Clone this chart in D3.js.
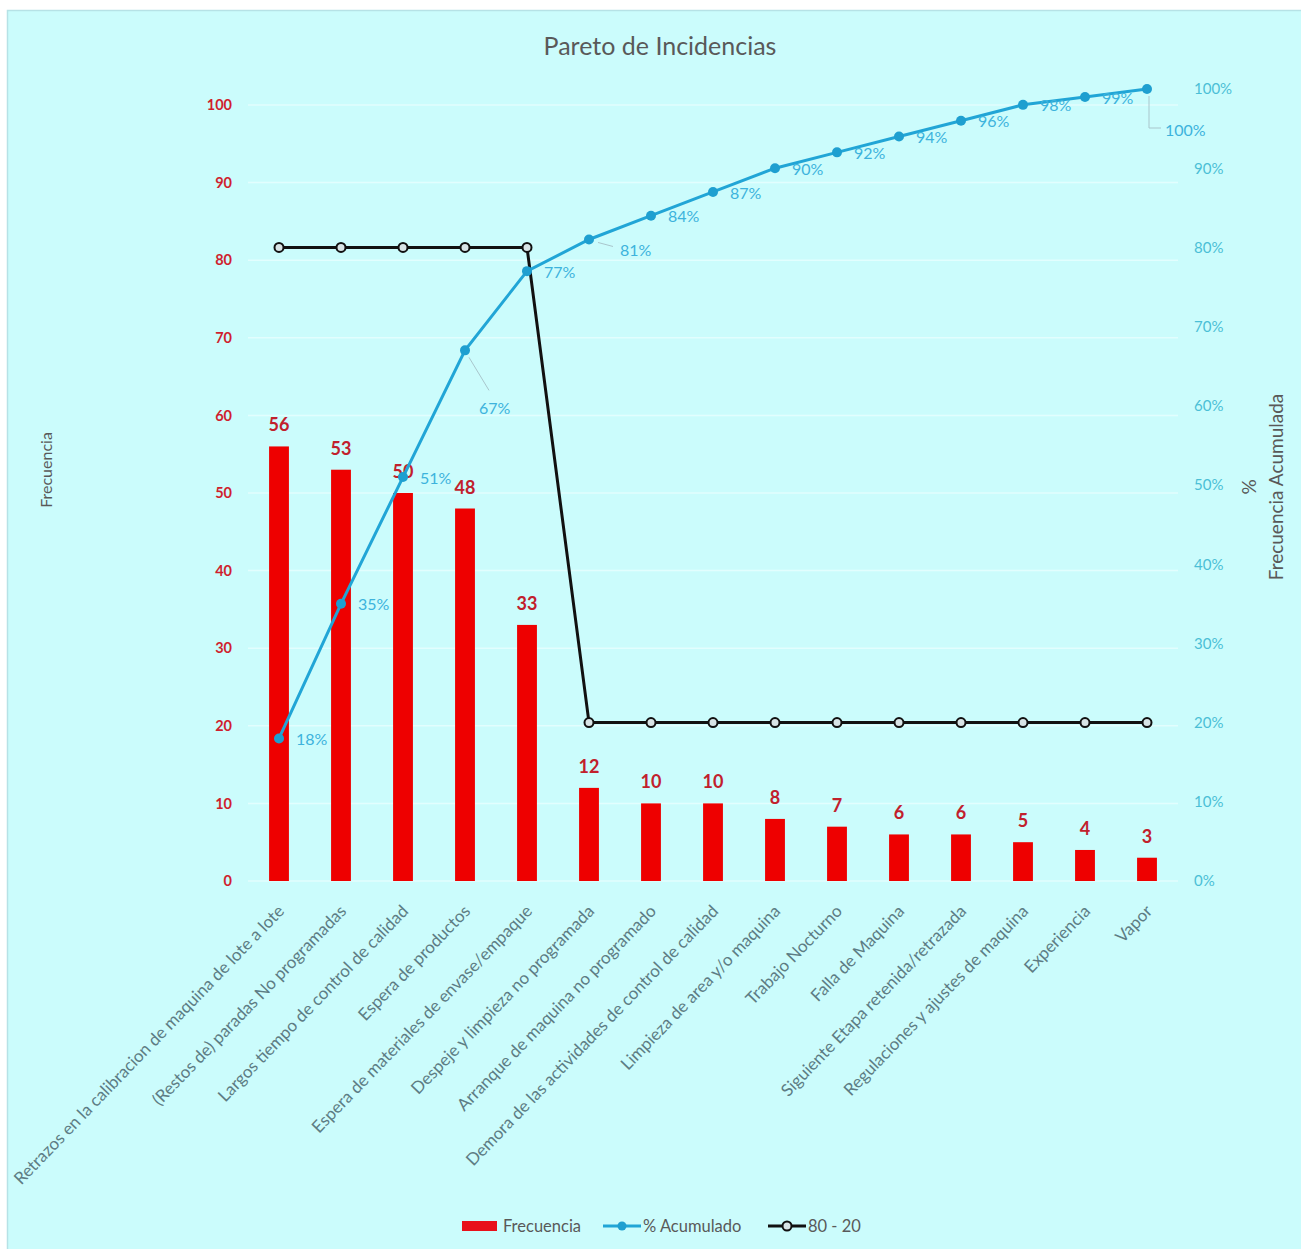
<!DOCTYPE html>
<html>
<head>
<meta charset="utf-8">
<script src="https://cdn.jsdelivr.net/npm/d3@7/dist/d3.min.js"></script>
<style>
  html, body { margin: 0; padding: 0; background: #ffffff; }
  svg { display: block; font-family: Lato, "Open Sans", sans-serif; }
</style>
</head>
<body>
<svg id="chart" width="1301" height="1249"></svg>
<script>
// Incidence categories, sorted by frequency
const categories = [
  "Retrazos en la calibracion de maquina de lote a lote",
  "(Restos de) paradas No programadas",
  "Largos tiempo de control de calidad",
  "Espera de productos",
  "Espera de materiales de envase/empaque",
  "Despeje y limpieza no programada",
  "Arranque de maquina no programado",
  "Demora de las actividades de control de calidad",
  "Limpieza de area y/o maquina",
  "Trabajo Nocturno",
  "Falla de Maquina",
  "Siguiente Etapa retenida/retrazada",
  "Regulaciones y ajustes de maquina",
  "Experiencia",
  "Vapor"
];
const frecuencia = [56, 53, 50, 48, 33, 12, 10, 10, 8, 7, 6, 6, 5, 4, 3];
// Cumulative share, in percent
const acumulado = [18, 35, 51, 67, 77, 81, 84, 87, 90, 92, 94, 96, 98, 99, 100];
// 80 - 20 reference line, in percent
const linea8020 = [80, 80, 80, 80, 80, 20, 20, 20, 20, 20, 20, 20, 20, 20, 20];
const leftTicks = [0, 10, 20, 30, 40, 50, 60, 70, 80, 90, 100];
const rightTicks = [0, 10, 20, 30, 40, 50, 60, 70, 80, 90, 100];
const legendLabels = ["Frecuencia", "% Acumulado", "80 - 20"];

const svg = d3.select("#chart");

// panel background
svg.append("rect")
  .attr("x", 7.5).attr("y", 10.5).attr("width", 1300).attr("height", 1245)
  .attr("fill", "#cbfcfc").attr("stroke", "#b6e2e6").attr("stroke-width", 1.5);

const plot = { left: 248, right: 1178, top: 89, bottom: 881 };

const x = d3.scaleBand().domain(categories).range([plot.left, plot.right]).paddingInner(0.68).paddingOuter(0.34);
const cx = d => x(d) + x.bandwidth() / 2;
const yL = d3.scaleLinear().domain([0, 102.06]).range([plot.bottom, plot.top]);
const yR = d3.scaleLinear().domain([0, 100]).range([plot.bottom, plot.top]);

// horizontal gridlines on the frequency ticks
svg.append("g").selectAll("line").data(leftTicks).join("line")
  .attr("x1", plot.left).attr("x2", plot.right)
  .attr("y1", d => yL(d)).attr("y2", d => yL(d))
  .attr("stroke", "#e2fefe").attr("stroke-width", 1.5);

// title
svg.append("text").attr("x", 660).attr("y", 55).attr("text-anchor", "middle")
  .attr("font-size", 25).attr("fill", "#595959").text("Pareto de Incidencias");

// left axis
const axL = d3.axisLeft(yL).tickValues(leftTicks).tickSize(0).tickPadding(0);
const gL = svg.append("g").attr("transform", `translate(${232},0)`).call(axL);
gL.select(".domain").remove();
gL.selectAll("text").attr("font-size", 14.5).attr("font-weight", "bold")
  .attr("fill", "#cf1f2e").attr("font-family", "Lato, sans-serif");

// right axis
const axR = d3.axisRight(yR).tickValues(rightTicks).tickSize(0).tickPadding(0)
  .tickFormat(d => d + "%");
const gR = svg.append("g").attr("transform", `translate(${1194},0)`).call(axR);
gR.select(".domain").remove();
gR.selectAll("text").attr("font-size", 15).attr("fill", "#4bbfd6").attr("font-family", "Lato, sans-serif");

// axis titles
svg.append("text").attr("transform", "translate(52,470) rotate(-90)")
  .attr("text-anchor", "middle").attr("font-size", 16).attr("fill", "#595959").text("Frecuencia");
const rt = svg.append("text").attr("transform", "translate(1256,487) rotate(-90)")
  .attr("text-anchor", "middle").attr("font-size", 19).attr("fill", "#595959");
rt.append("tspan").attr("x", 0).attr("dy", 0).text("%");
rt.append("tspan").attr("x", 0).attr("dy", 27).text("Frecuencia Acumulada");

// category labels
const xl = svg.append("g");
categories.forEach(c => {
  xl.append("text")
    .attr("transform", `translate(${cx(c) + 2},${908}) rotate(-46)`)
    .attr("text-anchor", "end").attr("dy", "0.35em")
    .attr("font-size", 17).attr("fill", "#5d7c84").text(c);
});

// bars
svg.append("g").selectAll("rect").data(frecuencia).join("rect")
  .attr("x", (d, i) => x(categories[i]))
  .attr("width", x.bandwidth())
  .attr("y", d => yL(d))
  .attr("height", d => plot.bottom - yL(d))
  .attr("fill", "#ee0000");

// bar value labels
svg.append("g").selectAll("text").data(frecuencia).join("text")
  .attr("x", (d, i) => cx(categories[i]))
  .attr("y", d => yL(d) - 15)
  .attr("text-anchor", "middle").attr("font-size", 18).attr("font-weight", "bold")
  .attr("fill", "#c1202c").text(d => d);

// 80 - 20 line
const line8020 = d3.line().x((d, i) => cx(categories[i])).y(d => yR(d));
svg.append("path").datum(linea8020).attr("d", line8020)
  .attr("fill", "none").attr("stroke", "#111111").attr("stroke-width", 3);
svg.append("g").selectAll("circle").data(linea8020).join("circle")
  .attr("cx", (d, i) => cx(categories[i])).attr("cy", d => yR(d)).attr("r", 4.5)
  .attr("fill", "#d8e4e6").attr("stroke", "#111111").attr("stroke-width", 2);

// cumulative line
const lineAc = d3.line().x((d, i) => cx(categories[i])).y(d => yR(d));
svg.append("path").datum(acumulado).attr("d", lineAc)
  .attr("fill", "none").attr("stroke", "#21a5d6").attr("stroke-width", 3);
svg.append("g").selectAll("circle").data(acumulado).join("circle")
  .attr("cx", (d, i) => cx(categories[i])).attr("cy", d => yR(d)).attr("r", 5)
  .attr("fill", "#1e9fd0");

// cumulative labels: placed right of each point, a few moved off the lines
const moved = { 3: [14, 58], 5: [31, 11], 14: [18, 41] };
const leaders = svg.append("g").attr("fill", "none").attr("stroke", "#a9c6cc").attr("stroke-width", 1);
const labs = svg.append("g");
acumulado.forEach((v, i) => {
  const px = cx(categories[i]), py = yR(v);
  const off = moved[i] || [17, 1];
  labs.append("text").attr("x", px + off[0]).attr("y", py + off[1]).attr("dy", "0.35em")
    .attr("font-size", 16).attr("fill", "#3db3dc").text(v + "%");
  if (i === 3) {
    leaders.append("line").attr("x1", px + 4).attr("y1", py + 7).attr("x2", px + 24).attr("y2", py + 40);
  } else if (i === 5) {
    leaders.append("line").attr("x1", px + 9).attr("y1", py + 3).attr("x2", px + 24).attr("y2", py + 7);
  } else if (i === 14) {
    leaders.append("path").attr("d", `M${px + 2},${py + 7}V${py + 39}H${px + 14}`);
  }
});

// legend
const lg = svg.append("g").attr("font-size", 16.5).attr("fill", "#595959");
const ly = 1226;
lg.append("rect").attr("x", 462).attr("y", ly - 5).attr("width", 35).attr("height", 10).attr("fill", "#e8101a");
lg.append("text").attr("x", 503).attr("y", ly).attr("dy", "0.35em").text(legendLabels[0]);
lg.append("line").attr("x1", 603).attr("x2", 641).attr("y1", ly).attr("y2", ly).attr("stroke", "#21a5d6").attr("stroke-width", 3);
lg.append("circle").attr("cx", 622).attr("cy", ly).attr("r", 4.5).attr("fill", "#1e9fd0");
lg.append("text").attr("x", 643).attr("y", ly).attr("dy", "0.35em").text(legendLabels[1]);
lg.append("line").attr("x1", 768).attr("x2", 806).attr("y1", ly).attr("y2", ly).attr("stroke", "#111111").attr("stroke-width", 3);
lg.append("circle").attr("cx", 787).attr("cy", ly).attr("r", 4.5).attr("fill", "#d8e4e6").attr("stroke", "#111111").attr("stroke-width", 2);
lg.append("text").attr("x", 808).attr("y", ly).attr("dy", "0.35em").text(legendLabels[2]);
</script>
</body>
</html>
